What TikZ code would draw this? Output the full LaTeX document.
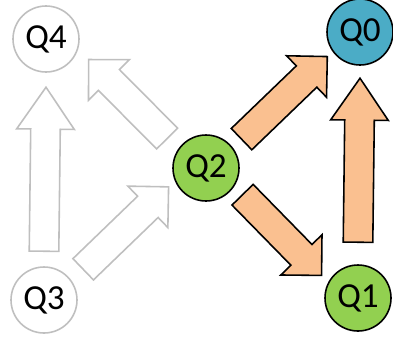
\documentclass[tikz,border=0pt]{standalone}
\usepackage{fontspec}
\setmainfont{Carlito}
\usetikzlibrary{shapes.arrows, calc}

\definecolor{qblue}{HTML}{4BACC6}
\definecolor{qgreen}{HTML}{92D050}
\definecolor{qorange}{HTML}{FAC090}
\definecolor{qgray}{HTML}{BFBFBF}

% block arrow running from the first point to the second
\newcommand{\flow}[3]{%
  \path let \p1=(#2), \p2=(#3), \n1={atan2(\y2-\y1,\x2-\x1)}, \n2={veclen(\x2-\x1,\y2-\y1)} in
    (\p1) node[#1, rotate=\n1, minimum height=\n2, anchor=tail] {};}

\begin{document}
\begin{tikzpicture}[state/.style={circle, draw, line width=0.9pt, minimum size=1.32cm, inner sep=0pt, font=\fontsize{20}{24}\selectfont},
                idle/.style={state, draw=qgray, fill=white},
                blk/.style={single arrow, line width=0.9pt, inner xsep=0pt, inner ysep=0.28cm, minimum width=0pt,
                            single arrow head extend=0.28cm, single arrow tip angle=90},
                ghost/.style={blk, draw=qgray, fill=white},
                hot/.style={blk, draw=black, fill=qorange},
                tall/.style={single arrow tip angle=69}]
                \useasboundingbox (0,0) rectangle (7.86,6.8);
                \node[idle] (q4) at (0.92,6.02) {Q4};
                \node[state, fill=qblue] (q0) at (7.2,6.16) {Q0};
                \node[state, fill=qgreen] (q2) at (4.12,3.44) {Q2};
                \node[idle] (q3) at (0.88,0.8) {Q3};
                \node[state, fill=qgreen] (q1) at (7.16,0.84) {Q1};
                % grey moves
                \flow{ghost, tall}{$(q3)+(90:0.96)$}{$(q4)+(-90:0.98)$}
                \flow{ghost}{$(q3)+(38:0.98)$}{$(q2)+(207:0.85)$}
                \flow{ghost}{$(q2)+(143:0.96)$}{$(q4)+(-26:0.96)$}
                % orange moves
                \flow{hot}{$(q2)+(39:0.9)$}{$(q0)+(217:0.83)$}
                \flow{hot}{$(q2)+(-36:0.89)$}{$(q1)+(148:0.87)$}
                \flow{hot, tall}{$(q1)+(90:1.1)$}{$(q0)+(-90:0.94)$}
            \end{tikzpicture}
\end{document}
